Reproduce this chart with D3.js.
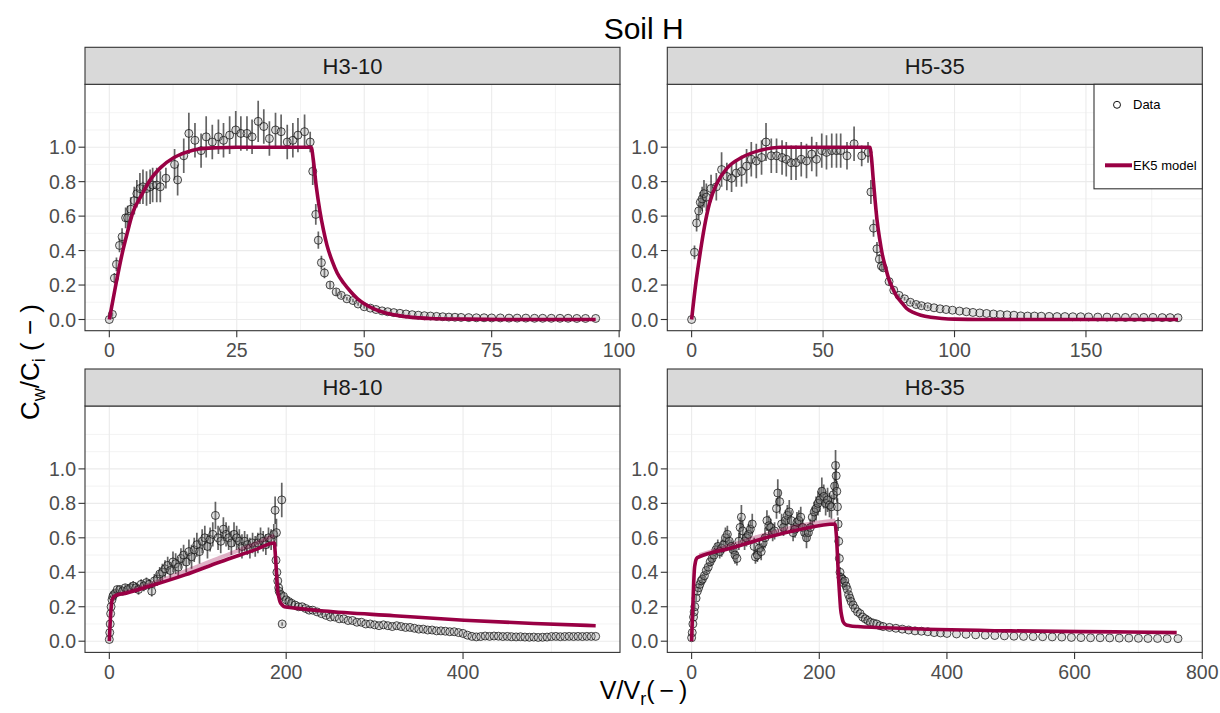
<!DOCTYPE html>
<html>
<head>
<meta charset="utf-8">
<script src="https://cdn.jsdelivr.net/npm/d3@7"></script>
<style>
  body { margin: 0; background: #fff; }
  svg { font-family: "Liberation Sans", Arial, sans-serif; }
</style>
</head>
<body>
<div id="canvas"></div>
<script>
"use strict"

// CONFIGURATION

let svgWidth = 1220;
let svgHeight = 713;
let colLeft = [85, 667.3];
let stripTop = [47.3, 369];
let stripH = 37;
let panelW = 535;
let panelH = 246.4;
let modelColor = "#990044";

// DATA

let panelNames = ["H3-10", "H5-35", "H8-10", "H8-35"];
let yTicks = [0, 0.2, 0.4, 0.6, 0.8, 1.0];
let yGrid = [0, 0.1, 0.2, 0.3, 0.4, 0.5, 0.6, 0.7, 0.8, 0.9, 1.0, 1.1, 1.2];
let xTicksList = [[0, 25, 50, 75, 100], [0, 50, 100, 150], [0, 200, 400], [0, 200, 400, 600, 800]];
let xMinorList = [[12.5, 37.5, 62.5, 87.5], [25, 75, 125, 175], [100, 300, 500], [100, 300, 500, 700]];

// H3-10 measured
let h310X = [0, 0.6, 1, 1.4, 2, 2.5, 3.2, 3.6, 4.2, 4.9, 5.4, 6, 6.6, 7.3, 8, 8.5, 9.3, 10, 11.1, 12.8, 13.4, 14.6, 15.6, 16.8, 18, 19, 20.2, 21.4, 22.4, 23.6, 24.8, 25.8, 27, 28, 29.2, 30.3, 31.4, 32.6, 33.7, 34.9, 36, 37, 38.3, 39.4, 39.9, 40.5, 41, 41.6, 42.2, 43.3, 44.5, 45.5, 46.6, 47.8, 48.8, 50, 51.2, 52.3, 53.5, 54.6, 55.8, 57, 58.2, 59.4, 60.6, 61.8, 63, 64.2, 65.4, 66.6, 67.8, 69, 70.5, 72, 73.5, 75, 76.7, 78.4, 80, 81.7, 83.4, 85, 86.7, 88.4, 90, 91.7, 93.4, 95.4];
let h310Y = [0, 0.03, 0.24, 0.32, 0.43, 0.48, 0.59, 0.59, 0.64, 0.69, 0.73, 0.76, 0.77, 0.76, 0.77, 0.78, 0.78, 0.77, 0.82, 0.9, 0.81, 0.95, 1.08, 1.04, 0.98, 1.06, 1.03, 1.06, 1.04, 1.07, 1.1, 1.08, 1.08, 1.06, 1.15, 1.12, 1.05, 1.1, 1.09, 1.03, 1.04, 1.07, 1.09, 1.03, 0.86, 0.61, 0.46, 0.33, 0.27, 0.2, 0.16, 0.14, 0.12, 0.11, 0.09, 0.074, 0.066, 0.058, 0.05, 0.045, 0.04, 0.036, 0.032, 0.028, 0.025, 0.022, 0.02, 0.018, 0.016, 0.014, 0.013, 0.012, 0.011, 0.01, 0.01, 0.009, 0.009, 0.008, 0.008, 0.008, 0.007, 0.007, 0.007, 0.007, 0.007, 0.006, 0.006, 0.006];
let h310E = [0, 0.01, 0.03, 0.04, 0.04, 0.05, 0.06, 0.07, 0.07, 0.08, 0.08, 0.09, 0.1, 0.1, 0.1, 0.1, 0.1, 0.09, 0.06, 0.09, 0.09, 0.1, 0.12, 0.1, 0.1, 0.12, 0.1, 0.1, 0.1, 0.11, 0.11, 0.1, 0.1, 0.1, 0.12, 0.1, 0.1, 0.1, 0.1, 0.1, 0.1, 0.1, 0.1, 0.06, 0.08, 0.06, 0.05, 0.04, 0.03, 0.02, 0.02, 0.015, 0.01, 0.01, 0.01, 0.01, 0, 0, 0, 0, 0, 0, 0, 0, 0, 0, 0, 0, 0, 0, 0, 0, 0, 0, 0, 0, 0, 0, 0, 0, 0, 0, 0, 0, 0, 0, 0, 0];
let h310ModelX = [0, 1.2, 2.5, 3.5, 4.6, 6.3, 8, 10, 12.7, 15, 17.5, 21, 25, 39.6, 40, 40.6, 41.3, 42, 42.7, 43.7, 44.7, 46, 47.4, 48.7, 50.1, 52, 54.2, 56.5, 59, 63, 70, 80, 95.4];
let h310ModelY = [0, 0.19, 0.38, 0.5, 0.62, 0.72, 0.81, 0.88, 0.94, 0.97, 0.99, 0.997, 1, 1, 0.93, 0.77, 0.63, 0.52, 0.43, 0.34, 0.27, 0.21, 0.16, 0.12, 0.09, 0.06, 0.038, 0.024, 0.014, 0.006, 0.002, 0, 0];

// H5-35 measured
let h535X = [0, 1.1, 1.9, 2.7, 3.3, 4, 4.7, 5.6, 7.4, 9.4, 11.4, 13.4, 15.2, 17, 19, 20.9, 22.7, 24.6, 26.6, 28.3, 30.3, 32.3, 34.4, 36, 37.9, 39.7, 41.7, 43.7, 45.7, 47.5, 49.5, 51.3, 53.3, 55.1, 56.7, 59.1, 61.8, 64.7, 67.1, 68.2, 69.2, 70.5, 71.4, 72.2, 72.9, 75.1, 76.9, 78.9, 81, 83.2, 85.4, 87.4, 89.8, 92.2, 94.5, 96.8, 99.2, 101.9, 104.5, 107, 109.6, 112.2, 114.8, 117.4, 120, 122.6, 125.2, 127.8, 130.4, 133, 136, 139, 142, 145, 148, 151, 154.5, 158, 161.5, 165, 168.5, 172, 175.5, 179, 182, 185];
let h535Y = [0, 0.39, 0.56, 0.63, 0.68, 0.7, 0.73, 0.71, 0.76, 0.77, 0.87, 0.83, 0.82, 0.85, 0.86, 0.89, 0.93, 0.92, 0.94, 1.03, 0.95, 0.95, 0.94, 0.93, 0.91, 0.91, 0.93, 0.92, 0.96, 0.93, 0.98, 0.97, 0.98, 0.98, 0.98, 0.95, 1.02, 0.95, 0.97, 0.74, 0.53, 0.41, 0.35, 0.31, 0.3, 0.22, 0.17, 0.14, 0.12, 0.1, 0.087, 0.08, 0.074, 0.068, 0.062, 0.058, 0.054, 0.049, 0.045, 0.041, 0.038, 0.035, 0.032, 0.029, 0.027, 0.025, 0.021, 0.02, 0.02, 0.019, 0.018, 0.017, 0.017, 0.016, 0.016, 0.015, 0.014, 0.014, 0.013, 0.012, 0.012, 0.012, 0.012, 0.011, 0.011, 0.01];
let h535E = [0, 0.04, 0.05, 0.05, 0.06, 0.07, 0.08, 0.08, 0.08, 0.08, 0.1, 0.08, 0.08, 0.08, 0.09, 0.1, 0.1, 0.1, 0.1, 0.11, 0.1, 0.1, 0.1, 0.1, 0.1, 0.1, 0.1, 0.1, 0.1, 0.1, 0.1, 0.1, 0.1, 0.1, 0.1, 0.08, 0.1, 0.06, 0.06, 0.07, 0.05, 0.04, 0.03, 0.03, 0.02, 0.02, 0.01, 0.01, 0.01, 0.01, 0.01, 0.01, 0.01, 0, 0, 0, 0, 0, 0, 0, 0, 0, 0, 0, 0, 0, 0, 0, 0, 0, 0, 0, 0, 0, 0, 0, 0, 0, 0, 0, 0, 0, 0, 0, 0, 0];
let h535ModelX = [0, 1.6, 2.9, 4.9, 6.9, 9.6, 13.6, 19, 25.7, 33.7, 67.8, 68.4, 69.1, 69.8, 70.5, 71.5, 72.5, 73.8, 75.1, 76.5, 77.8, 79.8, 81.8, 84.5, 87.2, 91, 95.2, 100, 110, 185];
let h535ModelY = [0, 0.21, 0.35, 0.54, 0.68, 0.79, 0.88, 0.94, 0.98, 1, 1, 0.94, 0.81, 0.69, 0.58, 0.47, 0.38, 0.3, 0.23, 0.18, 0.14, 0.1, 0.064, 0.04, 0.025, 0.013, 0.006, 0.002, 0, 0];

// H8-10 measured
let h810X = [0, 0.5, 1, 1.5, 2, 3, 4, 5, 7, 9, 12, 15, 18, 21, 24, 27, 30, 33, 36, 39, 42, 45, 48, 51, 54, 57, 60, 63, 66, 69, 72, 75, 78, 81, 84, 87, 90, 93, 96, 99, 102, 105, 108, 111, 114, 117, 120, 123, 126, 129, 132, 135, 138, 141, 144, 147, 150, 153, 156, 159, 162, 165, 168, 171, 174, 177, 180, 183, 186, 187.5, 188.5, 189, 189.5, 190.5, 191.5, 192, 194, 195, 195.5, 197, 200, 203, 206, 210, 214, 218, 222, 226, 230, 235, 240, 245, 250, 255, 260, 265, 270, 275, 280, 285, 290, 295, 300, 305, 310, 315, 320, 325, 330, 335, 340, 345, 350, 355, 360, 365, 370, 375, 380, 385, 390, 395, 400, 405, 410, 415, 420, 425, 430, 435, 440, 445, 450, 455, 460, 465, 470, 475, 480, 485, 490, 495, 500, 505, 510, 515, 520, 525, 530, 535, 540, 545, 550];
let h810Y = [0.01, 0.05, 0.1, 0.16, 0.2, 0.24, 0.26, 0.27, 0.28, 0.3, 0.3, 0.29, 0.31, 0.3, 0.31, 0.32, 0.31, 0.3, 0.33, 0.32, 0.34, 0.33, 0.29, 0.35, 0.36, 0.39, 0.4, 0.42, 0.44, 0.41, 0.46, 0.45, 0.43, 0.48, 0.5, 0.46, 0.52, 0.49, 0.53, 0.56, 0.52, 0.58, 0.6, 0.55, 0.59, 0.62, 0.73, 0.6, 0.58, 0.65, 0.62, 0.6, 0.57, 0.62, 0.6, 0.58, 0.55, 0.58, 0.56, 0.54, 0.57, 0.55, 0.57, 0.6, 0.58, 0.56, 0.6, 0.59, 0.62, 0.76, 0.47, 0.63, 0.4, 0.35, 0.31, 0.29, 0.27, 0.82, 0.1, 0.26, 0.24, 0.23, 0.22, 0.21, 0.2, 0.2, 0.19, 0.18, 0.18, 0.17, 0.16, 0.15, 0.14, 0.14, 0.13, 0.13, 0.12, 0.12, 0.11, 0.11, 0.1, 0.1, 0.095, 0.09, 0.095, 0.09, 0.085, 0.09, 0.085, 0.08, 0.08, 0.075, 0.07, 0.07, 0.065, 0.065, 0.06, 0.06, 0.058, 0.055, 0.055, 0.05, 0.045, 0.035, 0.028, 0.025, 0.027, 0.03, 0.028, 0.03, 0.029, 0.027, 0.028, 0.026, 0.025, 0.026, 0.024, 0.023, 0.024, 0.022, 0.023, 0.024, 0.027, 0.028, 0.026, 0.027, 0.028, 0.027, 0.028, 0.027, 0.028, 0.028, 0.028];
let h810E = [0, 0.01, 0.02, 0.02, 0.02, 0.02, 0.02, 0.02, 0.02, 0.02, 0.02, 0.02, 0.02, 0.02, 0.03, 0.03, 0.03, 0.03, 0.03, 0.03, 0.03, 0.03, 0.03, 0.04, 0.04, 0.04, 0.05, 0.05, 0.05, 0.05, 0.06, 0.06, 0.06, 0.06, 0.06, 0.06, 0.07, 0.07, 0.07, 0.07, 0.07, 0.07, 0.07, 0.07, 0.07, 0.07, 0.08, 0.07, 0.07, 0.07, 0.07, 0.07, 0.07, 0.07, 0.07, 0.07, 0.07, 0.06, 0.06, 0.06, 0.06, 0.06, 0.06, 0.06, 0.06, 0.06, 0.06, 0.06, 0.06, 0.08, 0.05, 0.08, 0.04, 0.04, 0.03, 0.03, 0.03, 0.1, 0.01, 0.02, 0.02, 0.02, 0.02, 0.02, 0.01, 0.01, 0.01, 0.01, 0.01, 0.01, 0.01, 0.01, 0.01, 0, 0, 0, 0, 0, 0, 0, 0, 0, 0, 0, 0, 0, 0, 0, 0, 0, 0, 0, 0, 0, 0, 0, 0, 0, 0, 0, 0, 0, 0, 0, 0, 0, 0, 0, 0, 0, 0, 0, 0, 0, 0, 0, 0, 0, 0, 0, 0, 0, 0, 0, 0, 0, 0, 0, 0, 0, 0, 0, 0];
let h810ModelX = [0, 0.5, 1.2, 2, 2.8, 4, 6.7, 20, 46, 85.6, 125, 164.5, 186.6, 187.5, 188.3, 189.2, 190, 191.5, 193, 195.5, 198, 210, 243, 322, 401, 480, 550];
let h810ModelY = [0, 0.06, 0.13, 0.19, 0.23, 0.25, 0.265, 0.28, 0.32, 0.385, 0.46, 0.53, 0.57, 0.52, 0.46, 0.38, 0.31, 0.26, 0.23, 0.21, 0.2, 0.192, 0.175, 0.148, 0.122, 0.103, 0.09];
let h810BandX = [6.7, 46, 85.6, 125, 164.5, 186.6];
let h810BandY = [0.265, 0.33, 0.405, 0.485, 0.565, 0.615];

// H8-35 measured
let h835X = [0, 1, 2, 3, 4, 5, 7, 9, 11, 13, 15, 17, 20, 23, 26, 29, 32, 35, 38, 41, 44, 47, 50, 53, 56, 59, 62, 65, 68, 71, 74, 76, 78, 80, 83, 86, 89, 92, 95, 98, 100, 103, 106, 109, 112, 115, 118, 121, 124, 127, 130, 133, 135, 138, 141, 144, 147, 150, 153, 156, 159, 162, 165, 168, 171, 174, 177, 180, 183, 186, 189, 192, 195, 198, 201, 204, 207, 210, 213, 216, 219, 222, 224, 225.5, 226.5, 227.5, 228.5, 229.5, 230.5, 231.5, 232.5, 234, 236, 238, 240, 242, 244, 246, 248, 250, 253, 256, 260, 264, 268, 272, 276, 280, 285, 290, 295, 300, 310, 320, 330, 340, 350, 360, 370, 380, 390, 400, 415, 430, 445, 460, 475, 490, 505, 520, 535, 550, 565, 580, 595, 610, 625, 640, 655, 670, 685, 700, 715, 730, 745, 762];
let h835Y = [0.02, 0.05, 0.1, 0.14, 0.17, 0.2, 0.25, 0.29, 0.31, 0.33, 0.35, 0.36, 0.38, 0.41, 0.43, 0.46, 0.48, 0.5, 0.53, 0.55, 0.52, 0.54, 0.56, 0.6, 0.62, 0.58, 0.55, 0.53, 0.5, 0.48, 0.58, 0.66, 0.72, 0.64, 0.58, 0.6, 0.62, 0.65, 0.68, 0.55, 0.49, 0.5, 0.54, 0.52, 0.57, 0.6, 0.7, 0.67, 0.66, 0.63, 0.64, 0.77, 0.86, 0.81, 0.68, 0.66, 0.7, 0.73, 0.75, 0.7, 0.63, 0.65, 0.69, 0.7, 0.72, 0.66, 0.63, 0.6, 0.63, 0.66, 0.72, 0.75, 0.77, 0.8, 0.82, 0.87, 0.84, 0.8, 0.82, 0.79, 0.78, 0.85, 0.9, 1.02, 0.96, 0.87, 0.78, 0.68, 0.58, 0.48, 0.4, 0.37, 0.36, 0.34, 0.35, 0.32, 0.3, 0.27, 0.25, 0.23, 0.21, 0.19, 0.17, 0.16, 0.14, 0.13, 0.12, 0.11, 0.105, 0.1, 0.09, 0.085, 0.08, 0.075, 0.07, 0.065, 0.06, 0.058, 0.055, 0.05, 0.048, 0.045, 0.042, 0.04, 0.037, 0.035, 0.033, 0.031, 0.029, 0.028, 0.027, 0.026, 0.025, 0.024, 0.022, 0.021, 0.02, 0.02, 0.019, 0.018, 0.018, 0.017, 0.016, 0.016, 0.015, 0.015];
let h835E = [0, 0.01, 0.01, 0.02, 0.02, 0.02, 0.02, 0.02, 0.02, 0.02, 0.02, 0.03, 0.03, 0.03, 0.03, 0.03, 0.04, 0.04, 0.04, 0.04, 0.04, 0.05, 0.05, 0.06, 0.05, 0.05, 0.04, 0.05, 0.05, 0.04, 0.05, 0.06, 0.07, 0.06, 0.05, 0.05, 0.06, 0.05, 0.06, 0.05, 0.04, 0.04, 0.05, 0.05, 0.05, 0.06, 0.06, 0.06, 0.05, 0.05, 0.05, 0.06, 0.08, 0.07, 0.06, 0.05, 0.06, 0.06, 0.07, 0.06, 0.05, 0.05, 0.06, 0.06, 0.06, 0.05, 0.05, 0.06, 0.05, 0.05, 0.06, 0.06, 0.07, 0.07, 0.07, 0.08, 0.07, 0.07, 0.07, 0.07, 0.07, 0.07, 0.08, 0.09, 0.08, 0.06, 0.05, 0.04, 0.03, 0.03, 0.03, 0.03, 0.03, 0.03, 0.03, 0.02, 0.02, 0.02, 0.02, 0.02, 0.02, 0.01, 0.01, 0.01, 0.01, 0.01, 0.01, 0, 0, 0, 0, 0, 0, 0, 0, 0, 0, 0, 0, 0, 0, 0, 0, 0, 0, 0, 0, 0, 0, 0, 0, 0, 0, 0, 0, 0, 0, 0, 0, 0, 0, 0, 0, 0, 0, 0, 0, 0];
let h835ModelX = [0, 1, 2.2, 3.3, 4.4, 5.5, 6.6, 9, 12, 61, 116, 171, 225, 226.2, 227.4, 228.7, 230, 231.7, 233.4, 235.5, 237.8, 242, 247.7, 260, 335, 500, 664, 760];
let h835ModelY = [0, 0.12, 0.23, 0.34, 0.42, 0.45, 0.47, 0.485, 0.49, 0.54, 0.6, 0.65, 0.68, 0.64, 0.58, 0.48, 0.38, 0.28, 0.19, 0.14, 0.11, 0.095, 0.09, 0.085, 0.074, 0.06, 0.054, 0.05];
let h835BandX = [12, 61, 116, 171, 225];
let h835BandY = [0.5, 0.555, 0.62, 0.672, 0.7];


// BUILD PANEL TABLE

function zipPoints(xs, ys, es) {
    return xs.map(function(x, i) { return { x: x, y: ys[i], e: es ? es[i] : 0 }; });
}

let panels = [
    { name: panelNames[0], pts: zipPoints(h310X, h310Y, h310E), model: zipPoints(h310ModelX, h310ModelY), band: null },
    { name: panelNames[1], pts: zipPoints(h535X, h535Y, h535E), model: zipPoints(h535ModelX, h535ModelY), band: null },
    { name: panelNames[2], pts: zipPoints(h810X, h810Y, h810E), model: zipPoints(h810ModelX, h810ModelY), band: zipPoints(h810BandX, h810BandY) },
    { name: panelNames[3], pts: zipPoints(h835X, h835Y, h835E), model: zipPoints(h835ModelX, h835ModelY), band: zipPoints(h835BandX, h835BandY) }
];


// CREATE SVG

let svg = d3.select("#canvas")
    .append("svg")
    .attr("width", svgWidth)
    .attr("height", svgHeight);

svg.append("rect")
    .attr("width", svgWidth)
    .attr("height", svgHeight)
    .attr("fill", "white");


// DRAW PANELS

panels.forEach(function(p, i) {
    let col = i % 2;
    let row = Math.floor(i / 2);
    let left = colLeft[col];
    let top = stripTop[row] + stripH;

    let xMax = d3.max(p.pts.concat(p.model), function(d) { return d.x; });
    let xScale = d3.scaleLinear()
        .domain([-0.05 * xMax, 1.05 * xMax])
        .range([left, left + panelW]);
    let yScale = d3.scaleLinear()
        .domain([-0.065, 1.365])
        .range([top + panelH, top]);

    let g = svg.append("g");

    // clip
    g.append("clipPath")
        .attr("id", "clip" + i)
        .append("rect")
        .attr("x", left)
        .attr("y", top)
        .attr("width", panelW)
        .attr("height", panelH);

    // grid
    g.selectAll("line.hgrid")
        .data(yGrid)
        .join("line")
        .attr("x1", left)
        .attr("x2", left + panelW)
        .attr("y1", function(d) { return yScale(d); })
        .attr("y2", function(d) { return yScale(d); })
        .attr("stroke", "#ebebeb")
        .attr("stroke-width", function(d) { return yTicks.some(function(t) { return Math.abs(t - d) < 1e-9; }) ? 1.1 : 0.6; });

    g.selectAll("line.vminor")
        .data(xMinorList[i])
        .join("line")
        .attr("x1", function(d) { return xScale(d); })
        .attr("x2", function(d) { return xScale(d); })
        .attr("y1", top)
        .attr("y2", top + panelH)
        .attr("stroke", "#ebebeb")
        .attr("stroke-width", 0.6);

    g.selectAll("line.vmajor")
        .data(xTicksList[i].filter(function(d) { return xScale(d) <= left + panelW; }))
        .join("line")
        .attr("x1", function(d) { return xScale(d); })
        .attr("x2", function(d) { return xScale(d); })
        .attr("y1", top)
        .attr("y2", top + panelH)
        .attr("stroke", "#ebebeb")
        .attr("stroke-width", 1.1);

    let plot = g.append("g").attr("clip-path", "url(#clip" + i + ")");

    // error bars
    plot.selectAll("line.err")
        .data(p.pts.filter(function(d) { return d.e > 0; }))
        .join("line")
        .attr("x1", function(d) { return xScale(d.x); })
        .attr("x2", function(d) { return xScale(d.x); })
        .attr("y1", function(d) { return yScale(d.y - d.e); })
        .attr("y2", function(d) { return yScale(d.y + d.e); })
        .attr("stroke", "#111")
        .attr("stroke-opacity", 0.65)
        .attr("stroke-width", 1.7);

    // data points
    plot.selectAll("circle.dataPoint")
        .data(p.pts)
        .join("circle")
        .attr("cx", function(d) { return xScale(d.x); })
        .attr("cy", function(d) { return yScale(d.y); })
        .attr("r", 4)
        .attr("fill", "#999")
        .attr("fill-opacity", 0.3)
        .attr("stroke", "#111")
        .attr("stroke-opacity", 0.75)
        .attr("stroke-width", 1);

    let line = d3.line()
        .x(function(d) { return xScale(d.x); })
        .y(function(d) { return yScale(d.y); })
        .curve(d3.curveMonotoneX);

    if (p.band) {
        plot.append("path")
            .attr("d", line(p.band))
            .attr("fill", "none")
            .attr("stroke", modelColor)
            .attr("stroke-opacity", 0.3)
            .attr("stroke-width", 4);
    }

    plot.append("path")
        .attr("d", line(p.model))
        .attr("fill", "none")
        .attr("stroke", modelColor)
        .attr("stroke-width", 3.6)
        .attr("stroke-linejoin", "round");

    // panel border
    g.append("rect")
        .attr("x", left)
        .attr("y", top)
        .attr("width", panelW)
        .attr("height", panelH)
        .attr("fill", "none")
        .attr("stroke", "#333333")
        .attr("stroke-width", 1.1);

    // strip
    g.append("rect")
        .attr("x", left)
        .attr("y", stripTop[row])
        .attr("width", panelW)
        .attr("height", stripH)
        .attr("fill", "#d9d9d9")
        .attr("stroke", "#333333")
        .attr("stroke-width", 1.1);

    g.append("text")
        .attr("x", left + panelW / 2)
        .attr("y", stripTop[row] + stripH / 2)
        .attr("dy", "0.36em")
        .attr("text-anchor", "middle")
        .attr("fill", "#1a1a1a")
        .style("font-size", "22px")
        .text(p.name);

    // y axis
    g.selectAll("line.ytick")
        .data(yTicks)
        .join("line")
        .attr("x1", left - 6.5)
        .attr("x2", left)
        .attr("y1", function(d) { return yScale(d); })
        .attr("y2", function(d) { return yScale(d); })
        .attr("stroke", "#333333")
        .attr("stroke-width", 1.1);

    g.selectAll("text.ylab")
        .data(yTicks)
        .join("text")
        .attr("x", left - 9)
        .attr("y", function(d) { return yScale(d); })
        .attr("dy", "0.36em")
        .attr("text-anchor", "end")
        .attr("fill", "#4d4d4d")
        .style("font-size", "19.5px")
        .text(function(d) { return d3.format(".1f")(d); });

    // x axis
    let xt = xTicksList[i];
    g.selectAll("line.xtick")
        .data(xt)
        .join("line")
        .attr("x1", function(d) { return xScale(d); })
        .attr("x2", function(d) { return xScale(d); })
        .attr("y1", top + panelH)
        .attr("y2", top + panelH + 6.5)
        .attr("stroke", "#333333")
        .attr("stroke-width", 1.1);

    g.selectAll("text.xlab")
        .data(xt)
        .join("text")
        .attr("x", function(d) { return xScale(d); })
        .attr("y", top + panelH + 26.5)
        .attr("text-anchor", "middle")
        .attr("fill", "#4d4d4d")
        .style("font-size", "19.5px")
        .text(function(d) { return d; });
});


// LEGEND (inside H5-35)

let lgX = 1094;
let lgY = 84.3;

svg.append("rect")
    .attr("x", lgX)
    .attr("y", lgY)
    .attr("width", colLeft[1] + panelW - lgX)
    .attr("height", 104.5)
    .attr("fill", "white")
    .attr("stroke", "#333333")
    .attr("stroke-width", 1.1);

svg.append("circle")
    .attr("cx", lgX + 23)
    .attr("cy", lgY + 20.5)
    .attr("r", 3.5)
    .attr("fill", "none")
    .attr("stroke", "#111")
    .attr("stroke-width", 1);

svg.append("text")
    .attr("x", lgX + 39)
    .attr("y", lgY + 25)
    .style("font-size", "13px")
    .text("Data");

svg.append("line")
    .attr("x1", lgX + 11)
    .attr("x2", lgX + 38)
    .attr("y1", lgY + 81)
    .attr("y2", lgY + 81)
    .attr("stroke", modelColor)
    .attr("stroke-width", 4);

svg.append("text")
    .attr("x", lgX + 39)
    .attr("y", lgY + 86)
    .style("font-size", "13px")
    .text("EK5 model");


// TITLES

svg.append("text")
    .attr("x", (colLeft[0] + colLeft[1] + panelW) / 2)
    .attr("y", 39)
    .attr("text-anchor", "middle")
    .style("font-size", "30px")
    .text("Soil H");

let xTitle = svg.append("text")
    .attr("x", (colLeft[0] + colLeft[1] + panelW) / 2)
    .attr("y", 699)
    .attr("text-anchor", "middle")
    .style("font-size", "25px");
xTitle.append("tspan").text("V/V");
xTitle.append("tspan").attr("dy", 6).style("font-size", "18px").text("r");
xTitle.append("tspan").attr("dy", -6).text("(\u2009\u2212\u2009)");

let yTitle = svg.append("text")
    .attr("transform", "translate(39,362) rotate(-90)")
    .attr("text-anchor", "middle")
    .style("font-size", "26px");
yTitle.append("tspan").text("C");
yTitle.append("tspan").attr("dy", 6).style("font-size", "18px").text("w");
yTitle.append("tspan").attr("dy", -6).text("/C");
yTitle.append("tspan").attr("dy", 6).style("font-size", "18px").text("i");
yTitle.append("tspan").attr("dy", -6).text(" ( \u2212 )");
</script>
</body>
</html>
